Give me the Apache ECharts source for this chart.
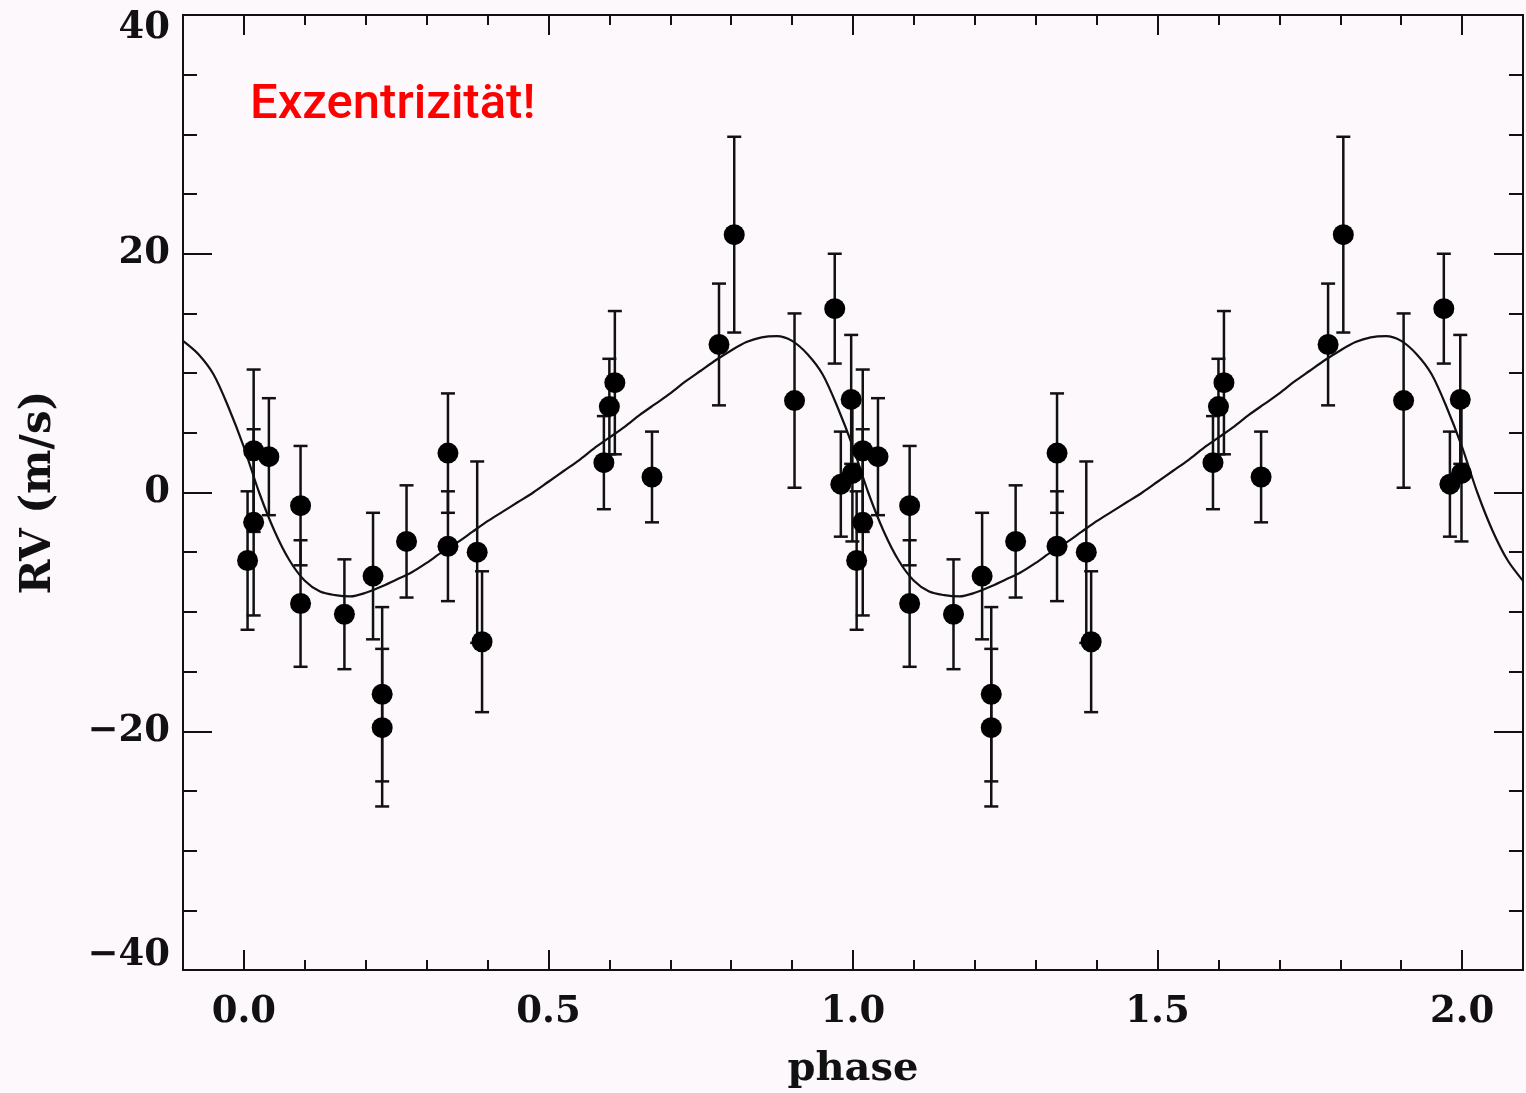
<!DOCTYPE html>
<html>
<head>
<meta charset="utf-8">
<script src="https://cdn.jsdelivr.net/npm/echarts@6/dist/echarts.min.js"></script>
<style>
  html, body { margin: 0; padding: 0; background: #fcf8fc; }
  #chart { width: 1526px; height: 1093px; }
</style>
</head>
<body>
<div id="chart"></div>
<script>
const obsPhase = [0.006, 0.016, 0.016, 0.041, 0.093, 0.093, 0.165, 0.212, 0.227, 0.227,
  0.267, 0.335, 0.335, 0.383, 0.391, 0.591, 0.600, 0.609, 0.670, 0.780,
  0.805, 0.904, 0.970, 0.997, 0.980, 0.999]
const obsRv = [-5.7, 3.5, -2.5, 3.0, -1.1, -9.3, -10.2, -7.0, -16.9, -19.7,
  -4.1, 3.3, -4.5, -5.0, -12.5, 2.5, 7.2, 9.2, 1.3, 12.4,
  21.6, 7.7, 15.4, 7.8, 0.7, 1.6]
const obsErr = [5.8, 6.8, 7.8, 4.9, 5.0, 5.3, 4.6, 5.3, 7.3, 6.6,
  4.7, 5.0, 4.6, 7.6, 5.9, 3.9, 4.0, 6.0, 3.8, 5.1,
  8.2, 7.3, 4.6, 5.4, 4.4, 5.7]

// orbit fit curve over one period
const curvePhase = [0, 0.025, 0.05, 0.075, 0.1, 0.125, 0.15, 0.175, 0.2, 0.225,
  0.25, 0.275, 0.3, 0.325, 0.35, 0.375, 0.4, 0.425, 0.45, 0.475,
  0.5, 0.525, 0.55, 0.575, 0.6, 0.625, 0.65, 0.675, 0.7, 0.725,
  0.75, 0.775, 0.8, 0.825, 0.85, 0.875, 0.9, 0.925, 0.95, 0.975]
const curveRv = [3.8, 0.0, -3.2, -5.7, -7.4, -8.3, -8.6, -8.7, -8.4, -7.9,
  -7.3, -6.7, -5.9, -5.0, -4.2, -3.3, -2.4, -1.6, -0.8, 0.0,
  0.9, 1.8, 2.7, 3.7, 4.6, 5.5, 6.5, 7.4, 8.3, 9.3,
  10.2, 11.1, 11.9, 12.6, 13.0, 13.1, 12.7, 11.6, 9.9, 7.1]

const xMajor = [0, 0.5, 1, 1.5, 2]
const xMinor = [-0.1, 0.1, 0.2, 0.3, 0.4, 0.6, 0.7, 0.8, 0.9, 1.1, 1.2, 1.3, 1.4, 1.6, 1.7, 1.8, 1.9, 2.1]
const xLabels = ['0.0', '0.5', '1.0', '1.5', '2.0']

// phase-folded plot shows each cycle twice
const points = []
const bars = []
obsPhase.forEach((p, i) => {
  ;[p, p + 1].forEach(ph => {
    points.push([ph, obsRv[i]])
    bars.push([ph, obsRv[i] - obsErr[i], obsRv[i] + obsErr[i]])
  })
})
const curve = []
for (let k = -1; k <= 2; k++) {
  curvePhase.forEach((p, i) => {
    const ph = p + k
    if (ph >= -0.1 - 1e-9 && ph <= 2.1 + 1e-9) curve.push([ph, curveRv[i]])
  })
}

const serif = 'DejaVu Serif'
const ink = '#111'
const chart = echarts.init(document.getElementById('chart'))

function xAxisDef(pos, ticks, len, withLabels) {
  return {
    type: 'value', position: pos, min: -0.1, max: 2.1,
    axisLine: { show: true, onZero: false, lineStyle: { color: ink, width: 2 } },
    axisTick: { show: true, inside: true, length: len, customValues: ticks, lineStyle: { color: ink, width: 2 } },
    axisLabel: withLabels ? {
      show: true, customValues: xMajor, margin: 24,
      color: ink, fontFamily: serif, fontSize: 37, fontWeight: 'bold',
      formatter: v => xLabels[xMajor.findIndex(m => Math.abs(m - v) < 1e-6)]
    } : { show: false },
    splitLine: { show: false }
  }
}

function yAxisDef(pos, withLabels) {
  return {
    type: 'value', position: pos, min: -40, max: 40, interval: 20,
    name: withLabels ? 'RV (m/s)' : '', nameLocation: 'middle', nameGap: 123,
    nameTextStyle: { color: ink, fontFamily: serif, fontSize: 42, fontWeight: 'bold' },
    axisLine: { show: true, onZero: false, lineStyle: { color: ink, width: 2 } },
    axisTick: { show: true, inside: true, length: 29, lineStyle: { color: ink, width: 2 } },
    minorTick: { show: true, splitNumber: 4, length: 14, lineStyle: { color: ink, width: 2 } },
    axisLabel: withLabels ? {
      show: true, margin: 13, color: ink, fontFamily: serif, fontSize: 37, fontWeight: 'bold',
      formatter: v => {
        const s = v < 0 ? '\u2212' + Math.abs(v) : String(v)
        if (v === 40) return '{top|' + s + '}'
        if (v === -40) return '{bot|' + s + '}'
        return s
      },
      rich: {
        top: { fontFamily: serif, fontSize: 37, fontWeight: 'bold', color: ink, padding: [26, 0, 0, 0] },
        bot: { fontFamily: serif, fontSize: 37, fontWeight: 'bold', color: ink, padding: [0, 0, 30, 0] }
      }
    } : { show: false },
    splitLine: { show: false }
  }
}

const xBottom = xAxisDef('bottom', xMajor, 20, true)
xBottom.name = 'phase'
xBottom.nameLocation = 'middle'
xBottom.nameGap = 80
xBottom.nameTextStyle = { color: ink, fontFamily: serif, fontSize: 40, fontWeight: 'bold' }

const option = {
  backgroundColor: '#fcf8fc',
  animation: false,
  grid: { left: 183, right: 3, top: 15, bottom: 123, show: false, outerBoundsMode: 'none', containLabel: false },
  xAxis: [
    xBottom,
    xAxisDef('bottom', xMinor, 10, false),
    xAxisDef('top', xMajor, 20, false),
    xAxisDef('top', xMinor, 10, false)
  ],
  yAxis: [yAxisDef('left', true), yAxisDef('right', false)],
  graphic: [{
    type: 'text', left: 250, top: 81,
    style: { text: 'Exzentrizität!', fill: '#ff0000', fontFamily: 'Roboto', fontWeight: 500, fontSize: 49 }
  }],
  series: [
    {
      type: 'line', data: curve, showSymbol: false, smooth: 0.3,
      lineStyle: { color: ink, width: 2.2 }, z: 2
    },
    {
      type: 'custom', data: bars, encode: { x: 0, y: [1, 2] }, z: 3,
      renderItem: (params, api) => {
        const lo = api.coord([api.value(0), api.value(1)])
        const hi = api.coord([api.value(0), api.value(2)])
        const w = 7
        const st = { stroke: ink, lineWidth: 2.5 }
        return {
          type: 'group',
          children: [
            { type: 'line', shape: { x1: lo[0], y1: lo[1], x2: hi[0], y2: hi[1] }, style: st },
            { type: 'line', shape: { x1: lo[0] - w, y1: lo[1], x2: lo[0] + w, y2: lo[1] }, style: st },
            { type: 'line', shape: { x1: hi[0] - w, y1: hi[1], x2: hi[0] + w, y2: hi[1] }, style: st }
          ]
        }
      }
    },
    {
      type: 'scatter', data: points, symbol: 'circle', symbolSize: 21,
      itemStyle: { color: '#000', opacity: 1 }, z: 4
    }
  ]
}
chart.setOption(option)
</script>
</body>
</html>
